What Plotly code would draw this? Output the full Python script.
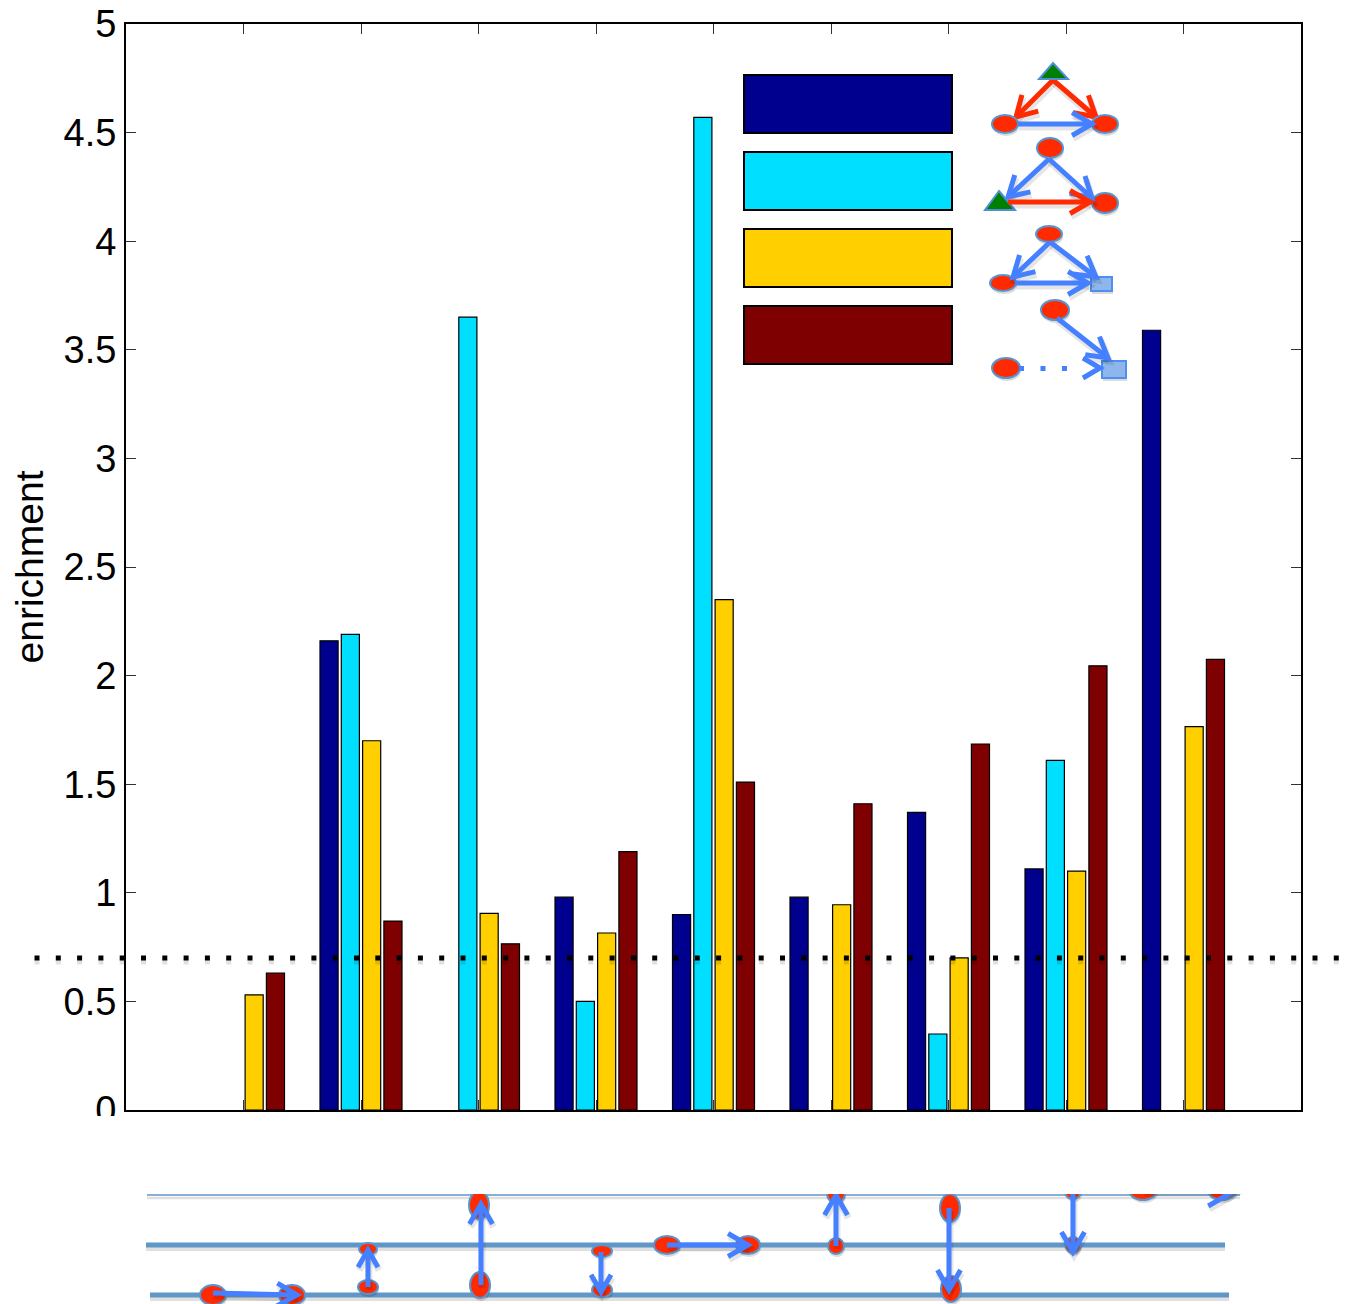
import plotly.graph_objects as go
import math

# ---- data ----
categories = [1, 2, 3, 4, 5, 6, 7, 8, 9]
series_blue = [0, 2.16, 0, 0.98, 0.90, 0.98, 1.37, 1.11, 3.59]
series_cyan = [0, 2.19, 3.65, 0.50, 4.57, 0, 0.35, 1.61, 0]
series_yellow = [0.53, 1.70, 0.905, 0.815, 2.35, 0.945, 0.70, 1.10, 1.765]
series_red = [0.63, 0.87, 0.765, 1.19, 1.51, 1.41, 1.685, 2.045, 2.075]
series_names = ["motif A", "motif B", "motif C", "motif D"]
series_colors = ["#00008f", "#00dfff", "#ffcf00", "#7f0000"]
y_ticks = [0, 0.5, 1, 1.5, 2, 2.5, 3, 3.5, 4, 4.5, 5]
y_labels = ["0", "0.5", "1", "1.5", "2", "2.5", "3", "3.5", "4", "4.5", "5"]
threshold = 0.70

# ---- page geometry ----
W, H = 1354, 1304
L, R, T, B = 126, 1301, 24, 1110


def X(px):
    return (px - L) / (R - L)


def Y(py):
    return (B - py) / (B - T)


BLUE = "#4480ff"
REDA = "#ff2a00"
NODE_EDGE = "#5a94cc"
LANE = "#6096c8"
SHADOW = "rgba(0,0,0,0.10)"

shapes = []


def seg_path(points):
    return "M" + " L".join(f"{X(x):.5f},{Y(y):.5f}" for x, y in points)


def add_path(points, color, width, closed=False, fill=None):
    path = seg_path(points) + (" Z" if closed else "")
    shapes.append(dict(type="path", path=path, xref="paper", yref="paper", layer="above",
                       line=dict(color=color, width=width),
                       fillcolor=fill if fill else "rgba(0,0,0,0)"))


def arrow(x0, y0, x1, y1, color=BLUE, width=5, head=23, ang=30):
    a = math.atan2(y1 - y0, x1 - x0)
    w1 = (x1 - head * math.cos(a - math.radians(ang)), y1 - head * math.sin(a - math.radians(ang)))
    w2 = (x1 - head * math.cos(a + math.radians(ang)), y1 - head * math.sin(a + math.radians(ang)))
    for dx, dy, c, lw in ((1, 3, SHADOW, width + 2), (0, 0, color, width)):
        add_path([(x0 + dx, y0 + dy), (x1 + dx, y1 + dy)], c, lw)
        add_path([(w1[0] + dx, w1[1] + dy), (x1 + dx, y1 + dy), (w2[0] + dx, w2[1] + dy)], c, lw)


def ellipse(cx, cy, rx, ry):
    shapes.append(dict(type="circle", xref="paper", yref="paper", layer="above",
                       x0=X(cx - rx + 1), x1=X(cx + rx + 1), y0=Y(cy + ry + 3), y1=Y(cy - ry + 3),
                       line=dict(width=0), fillcolor="rgba(0,0,0,0.14)"))
    shapes.append(dict(type="circle", xref="paper", yref="paper", layer="above",
                       x0=X(cx - rx), x1=X(cx + rx), y0=Y(cy + ry), y1=Y(cy - ry),
                       line=dict(color=NODE_EDGE, width=2), fillcolor=REDA))


def triangle(ax, ay, x0, x1, by):
    add_path([(ax, ay), (x1, by), (x0, by)], "#4f8fd8", 2, closed=True, fill="#008000")


def square(x0, y0, x1, y1):
    shapes.append(dict(type="rect", xref="paper", yref="paper", layer="above",
                       x0=X(x0 + 1), x1=X(x1 + 1), y0=Y(y1 + 3), y1=Y(y0 + 3),
                       line=dict(width=0), fillcolor="rgba(0,0,0,0.14)"))
    shapes.append(dict(type="rect", xref="paper", yref="paper", layer="above",
                       x0=X(x0), x1=X(x1), y0=Y(y1), y1=Y(y0),
                       line=dict(color="#4f8fef", width=2), fillcolor="#8db6ec"))


# threshold dotted line (runs past both axes)
for off, col in ((4, "rgba(0,0,0,0.12)"), (0, "#000000")):
    shapes.append(dict(type="line", xref="paper", yref="y", layer="above",
                       x0=X(34.5), x1=X(1346),
                       y0=threshold - off / 217.2, y1=threshold - off / 217.2,
                       line=dict(color=col, width=5, dash="5px,16.3px")))

# legend swatches
for (y0, y1), col in zip([(75, 133), (152, 210), (229, 287), (306, 364)], series_colors):
    shapes.append(dict(type="rect", xref="paper", yref="paper", layer="above",
                       x0=X(744), x1=X(952), y0=Y(y1), y1=Y(y0),
                       line=dict(color="#000000", width=2), fillcolor=col))

# legend motif 1
arrow(1053, 80, 1016, 117, REDA)
arrow(1053, 80, 1096, 117, REDA)
ellipse(1005, 124, 13, 9)
ellipse(1105, 124, 13, 9)
arrow(1018, 124, 1092, 124)
triangle(1053, 63, 1039, 1068, 79)
# legend motif 2
ellipse(1050, 148, 13, 10)
ellipse(1105, 203, 13, 10)
arrow(1049, 159, 1008, 197)
arrow(1049, 159, 1092, 198)
triangle(999, 191, 985, 1015, 210)
arrow(1008, 202, 1090, 202, REDA)
# legend motif 3
ellipse(1049, 234, 13, 8)
ellipse(1003, 283, 13, 8)
square(1091, 277, 1112, 291)
arrow(1050, 242, 1013, 277)
arrow(1050, 242, 1096, 277)
arrow(1015, 283, 1088, 283)
# legend motif 4
ellipse(1055, 310, 14, 10)
ellipse(1006, 368, 14, 10)
square(1102, 361, 1126, 378)
arrow(1057, 318, 1108, 358)
shapes.append(dict(type="line", xref="paper", yref="paper", layer="above",
                   x0=X(1019), x1=X(1070), y0=Y(368.5), y1=Y(368.5),
                   line=dict(color=BLUE, width=5, dash="5px,16.5px")))
add_path([(1083, 358), (1100, 368), (1083, 378)], BLUE, 5)

# lanes under the plot
for x0, x1, y, lw in ((147, 1240, 1195, 1.5), (146, 1225, 1245, 5), (150, 1229, 1295, 5)):
    shapes.append(dict(type="line", xref="paper", yref="paper", layer="above",
                       x0=X(x0), x1=X(x1), y0=Y(y + 3), y1=Y(y + 3),
                       line=dict(color="rgba(0,0,0,0.12)", width=lw + 1)))
    shapes.append(dict(type="line", xref="paper", yref="paper", layer="above",
                       x0=X(x0), x1=X(x1), y0=Y(y), y1=Y(y),
                       line=dict(color=LANE, width=lw)))

# transitions drawn over the lanes
ellipse(213, 1295, 13, 10); ellipse(292, 1295, 13, 10); arrow(213, 1293, 297, 1295)
ellipse(368, 1249, 9, 6); ellipse(368, 1287, 10, 7); arrow(368, 1287, 368, 1250, head=20)
ellipse(479, 1205, 10, 14); ellipse(480, 1285, 10, 13); arrow(481, 1285, 481, 1204)
ellipse(602, 1251, 10, 6); ellipse(602, 1290, 10, 7); arrow(601, 1252, 601, 1292, head=20)
ellipse(667, 1245, 13, 9); ellipse(748, 1245, 12, 9); arrow(667, 1245, 748, 1245)
ellipse(836, 1194, 9, 9); ellipse(836, 1246, 8, 8); arrow(836, 1246, 836, 1195)
ellipse(950, 1208, 10, 14); ellipse(951, 1289, 10, 13); arrow(949, 1208, 949, 1290)
ellipse(1073, 1192, 8, 7); ellipse(1073, 1245, 8, 8); arrow(1073, 1190, 1073, 1252)
ellipse(1143, 1190, 14, 10); ellipse(1222, 1190, 14, 10); arrow(1143, 1190, 1236, 1190, head=32)

# the diagram is cropped along its top edge, and the "0" tick label is cropped too
shapes.append(dict(type="rect", xref="paper", yref="paper", layer="above",
                   x0=X(130), x1=X(1300), y0=Y(1194), y1=Y(1150),
                   line=dict(width=0), fillcolor="#ffffff"))
shapes.append(dict(type="rect", xref="paper", yref="paper", layer="above",
                   x0=X(60), x1=X(125), y0=Y(1140), y1=Y(1116),
                   line=dict(width=0), fillcolor="#ffffff"))

# ---- figure ----
fig = go.Figure()
for name, vals, col in zip(series_names,
                           [series_blue, series_cyan, series_yellow, series_red],
                           series_colors):
    edge_widths = [1.2 if v > 0 else 0 for v in vals]
    fig.add_trace(go.Bar(x=categories, y=vals, name=name,
                         marker=dict(color=col, line=dict(color="#000000", width=edge_widths))))

fig.update_layout(
    width=W, height=H, autosize=False,
    margin=dict(l=L, r=W - R, t=T, b=H - B, pad=0),
    paper_bgcolor="#ffffff", plot_bgcolor="#ffffff",
    barmode="group", bargap=0.275, bargroupgap=0.15,
    showlegend=False,
    font=dict(family="Liberation Sans, Arial, sans-serif", color="#000000", size=38),
    shapes=shapes,
    xaxis=dict(range=[0, 10], tickvals=categories, showticklabels=False, ticks="inside", ticklen=10,
               tickwidth=1, tickcolor="#333333", showline=True, linecolor="#000000", linewidth=2,
               mirror="allticks", showgrid=False, zeroline=False, automargin=False),
    yaxis=dict(range=[0, 5], tickvals=y_ticks, ticktext=y_labels, ticks="inside", ticklen=10,
               tickwidth=1, tickcolor="#333333", showline=True, linecolor="#000000", linewidth=2,
               mirror="allticks", showgrid=False, zeroline=False, automargin=False,
               tickfont=dict(size=38), title=dict(text="enrichment", font=dict(size=39), standoff=8)),
)

fig.write_html("out.html", config={"displayModeBar": False},
               post_script="document.body.style.margin='0';")
